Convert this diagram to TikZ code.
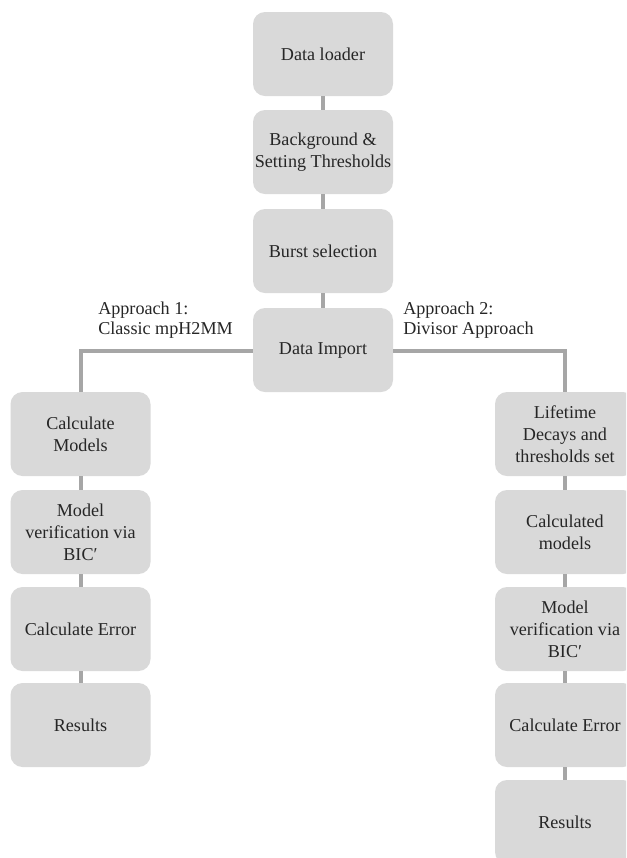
\documentclass[tikz,border=0pt]{standalone}
\usepackage{fontspec}
\setmainfont{Liberation Serif}
\begin{document}
\begin{tikzpicture}[x=0.75pt,y=-0.75pt,
  box/.style={fill=boxgray,draw=none,rounded corners=9pt,minimum width=105pt,minimum height=63pt,
    align=center,inner sep=1pt,font=\fontsize{13.6}{16.5}\selectfont,text=black!85},
  link/.style={draw=linegray,line width=3pt},
  lbl/.style={align=left,anchor=north west,inner sep=0pt,font=\fontsize{13.6}{15}\selectfont,text=black!85}]
\definecolor{boxgray}{HTML}{D9D9D9}
\definecolor{linegray}{HTML}{A6A6A6}
\clip (0,0) rectangle (626,858);
\fill[white] (0,0) rectangle (626,858);
% centre column
\node[box] (dl) at (323,54) {Data loader};
\node[box] (bg) at (323,152) {Background \&\\Setting Thresholds};
\node[box] (bs) at (323,251) {Burst selection};
\node[box] (di) at (323,350) {Data Import};
% left column
\node[box] (l1) at (80.5,434) {Calculate\\Models};
\node[box] (l2) at (80.5,532) {Model\\verification via\\BIC′};
\node[box] (l3) at (80.5,629) {Calculate Error};
\node[box] (l4) at (80.5,725) {Results};
% right column
\node[box] (r1) at (565,434) {Lifetime\\Decays and\\thresholds set};
\node[box] (r2) at (565,532) {Calculated\\models};
\node[box] (r3) at (565,629) {Model\\verification via\\BIC′};
\node[box] (r4) at (565,725) {Calculate Error};
\node[box] (r5) at (565,822) {Results};
% connectors
\draw[link] (dl.south) -- (bg.north);
\draw[link] (bg.south) -- (bs.north);
\draw[link] (bs.south) -- (di.north);
\draw[link] (di.west |- 0,351) -| (l1.north);
\draw[link] (di.east |- 0,351) -| (r1.north);
\draw[link] (l1.south) -- (l2.north);
\draw[link] (l2.south) -- (l3.north);
\draw[link] (l3.south) -- (l4.north);
\draw[link] (r1.south) -- (r2.north);
\draw[link] (r2.south) -- (r3.north);
\draw[link] (r3.south) -- (r4.north);
\draw[link] (r4.south) -- (r5.north);
% labels
\node[lbl] (a1) at (98,302) {Approach 1:\\Classic mpH2MM};
\node[lbl] (a2) at (403,302) {Approach 2:\\Divisor Approach};
\end{tikzpicture}
\end{document}
